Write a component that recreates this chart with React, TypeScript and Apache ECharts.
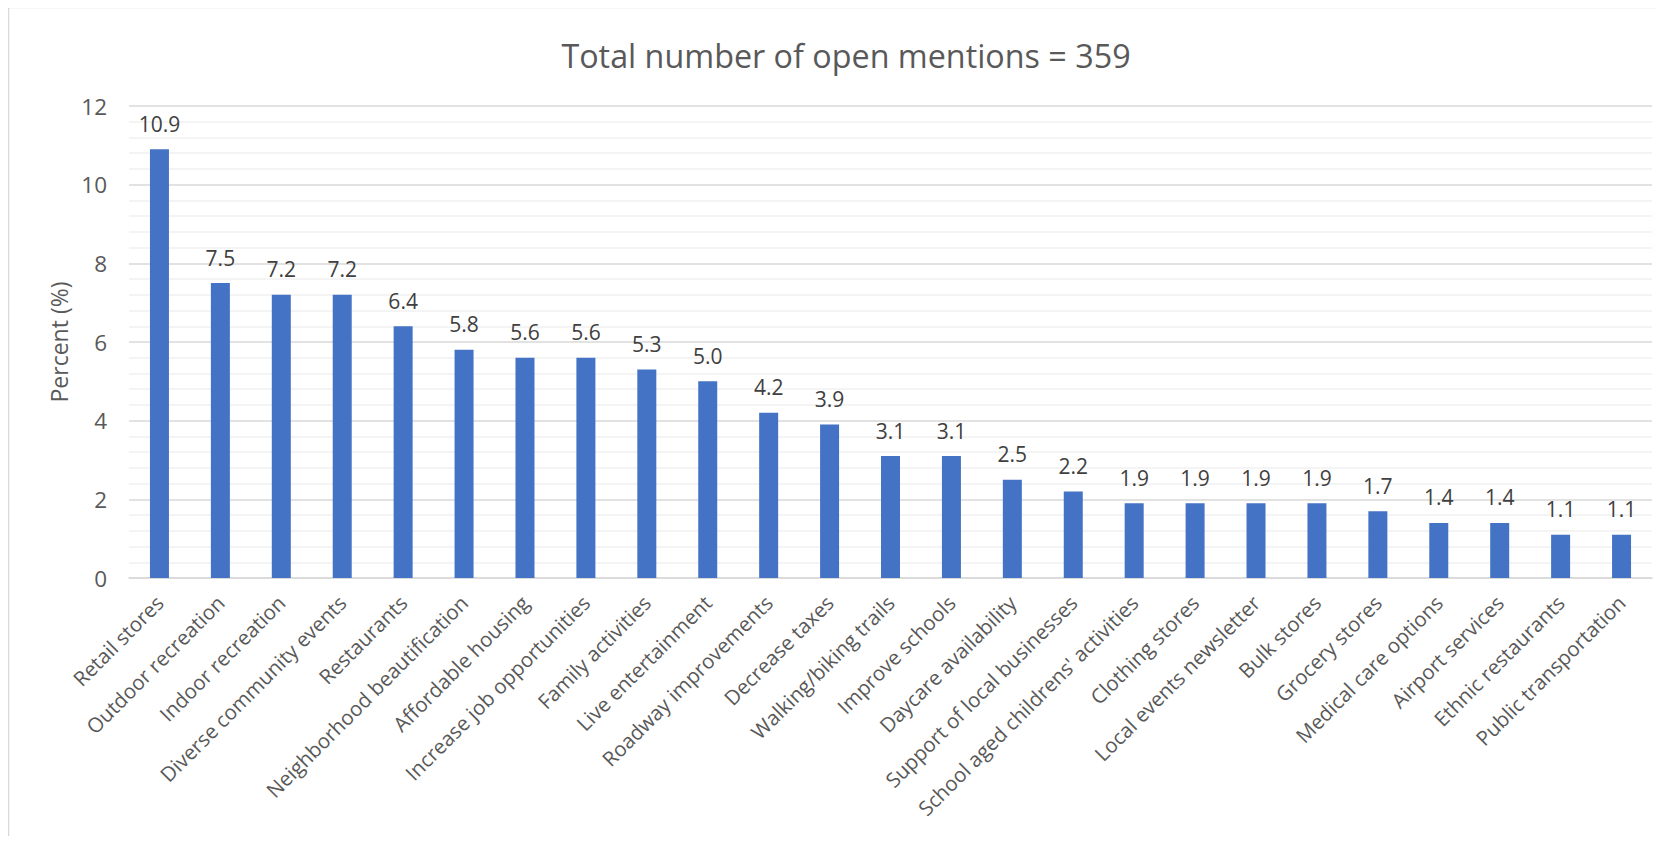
import React, { useEffect, useRef } from "react";
import * as echarts from "echarts";

const categories: string[] = [
  "Retail stores",
  "Outdoor recreation",
  "Indoor recreation",
  "Diverse community events",
  "Restaurants",
  "Neighborhood beautification",
  "Affordable housing",
  "Increase job opportunities",
  "Family activities",
  "Live entertainment",
  "Roadway improvements",
  "Decrease taxes",
  "Walking/biking trails",
  "Improve schools",
  "Daycare availability",
  "Support of local businesses",
  "School aged childrens' activities",
  "Clothing stores",
  "Local events newsletter",
  "Bulk stores",
  "Grocery stores",
  "Medical care options",
  "Airport services",
  "Ethnic restaurants",
  "Public transportation",
];

const percentValues: number[] = [
  10.9, 7.5, 7.2, 7.2, 6.4, 5.8, 5.6, 5.6, 5.3, 5.0, 4.2, 3.9, 3.1, 3.1, 2.5,
  2.2, 1.9, 1.9, 1.9, 1.9, 1.7, 1.4, 1.4, 1.1, 1.1,
];

const titleText = "Total number of open mentions = 359";
const yAxisName = "Percent (%)";

const FONT = "'Open Sans', 'Noto Sans', sans-serif";

export default function App() {
  const ref = useRef<HTMLDivElement>(null);

  useEffect(() => {
    if (!ref.current) return;
    const chart = echarts.init(ref.current, undefined, { renderer: "svg" });
    chart.setOption({
      animation: false,
      backgroundColor: "#ffffff",
      textStyle: { fontFamily: FONT },
      title: {
        text: titleText,
        left: 833,
        top: 26,
        textAlign: "center",
        textStyle: {
          fontFamily: FONT,
          fontSize: 32.3,
          fontWeight: "normal",
          color: "#595959",
        },
      },
      graphic: [
        {
          type: "rect",
          shape: { x: 0.5, y: -0.5, width: 3000, height: 3000 },
          style: { fill: "none", stroke: "#d9d9d9", lineWidth: 1.5 },
          silent: true,
        },
      ],
      grid: {
        left: 121,
        right: 5,
        top: 98,
        bottom: 258,
        containLabel: false,
      },
      xAxis: {
        type: "category",
        data: categories,
        axisTick: { show: false },
        axisLine: { show: true, lineStyle: { color: "#d9d9d9", width: 1.5 } },
        axisLabel: {
          interval: 0,
          rotate: 45,
          margin: 21,
          fontFamily: FONT,
          fontSize: 20.5,
          color: "#595959",
        },
      },
      yAxis: {
        type: "value",
        min: 0,
        max: 12,
        interval: 2,
        name: yAxisName,
        nameLocation: "middle",
        nameGap: 56,
        nameTextStyle: { fontFamily: FONT, fontSize: 23, color: "#595959" },
        axisLine: { show: false },
        axisTick: { show: false },
        axisLabel: {
          margin: 22,
          fontFamily: FONT,
          fontSize: 22.5,
          color: "#595959",
        },
        splitLine: { show: true, lineStyle: { color: "#d9d9d9", width: 1.5 } },
        minorTick: { show: false, splitNumber: 5 },
        minorSplitLine: { show: true, lineStyle: { color: "#f0f0f0", width: 1.5 } },
      },
      series: [
        {
          type: "bar",
          data: percentValues,
          barWidth: 19,
          itemStyle: { color: "#4472C4" },
          label: {
            show: true,
            position: "top",
            distance: 15,
            fontFamily: FONT,
            fontSize: 21,
            color: "#404040",
            formatter: (p: any) => Number(p.value).toFixed(1),
          },
        },
      ],
    });
    return () => chart.dispose();
  }, []);

  return <div ref={ref} style={{ width: 1649, height: 828 }} />;
}
